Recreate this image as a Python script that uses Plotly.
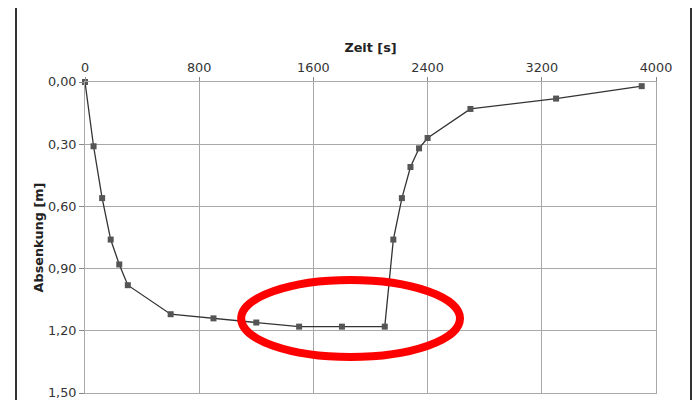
import plotly.graph_objects as go

# Data
zeit_s = [0, 60, 120, 180, 240, 300, 600, 900, 1200, 1500, 1800, 2100,
          2160, 2220, 2280, 2340, 2400, 2700, 3300, 3900]
absenkung_m = [0.00, 0.31, 0.56, 0.76, 0.88, 0.98, 1.12, 1.14, 1.16, 1.18, 1.18, 1.18,
               0.76, 0.56, 0.41, 0.32, 0.27, 0.13, 0.08, 0.02]
x_ticks = [0, 800, 1600, 2400, 3200, 4000]
y_ticks = [0.0, 0.3, 0.6, 0.9, 1.2, 1.5]
y_tick_labels = ["0,00", "0,30", "0,60", "0,90", "1,20", "1,50"]

# Red highlight ellipse (data coordinates)
ellipse_x = [1094, 2627]
ellipse_y = [0.955, 1.326]

FONT = "DejaVu Sans, Verdana, sans-serif"

OFF = 8  # page body margin offset
W, H = 700, 400
L, T = 85 - OFF, 82 - OFF
R = W - (656 - OFF)
B = H - (393 - OFF)
PW = W - L - R

fig = go.Figure()
fig.add_trace(go.Scatter(
    x=zeit_s, y=absenkung_m, mode="lines+markers",
    line=dict(color="#333333", width=1.3),
    marker=dict(symbol="square", size=6, color="#555555"),
    showlegend=False, cliponaxis=False,
))

fig.update_layout(
    width=W, height=H,
    margin=dict(l=L, r=R, t=T, b=B, autoexpand=False),
    paper_bgcolor="white", plot_bgcolor="white",
    font=dict(family=FONT, size=12.8, color="#333333"),
    xaxis=dict(
        side="top", range=[0, 4000], tickvals=x_ticks,
        ticktext=[str(v) for v in x_ticks],
        showgrid=True, gridcolor="#a8a8a8", gridwidth=1,
        ticks="outside", ticklen=4, tickcolor="#888888",
        showline=True, linecolor="#a8a8a8", mirror=True,
        zeroline=False, automargin=False,
        title=dict(text="<b>Zeit [s]</b>", font=dict(size=12.8, color="#222222"), standoff=4),
    ),
    yaxis=dict(
        range=[1.5, 0], tickvals=y_ticks, ticktext=y_tick_labels,
        showgrid=True, gridcolor="#a8a8a8", gridwidth=1,
        ticks="outside", ticklen=5, tickcolor="#888888",
        showline=True, linecolor="#a8a8a8", mirror=True,
        zeroline=False, automargin=False,
        title=dict(text="<b>Absenkung [m]</b>", font=dict(size=12.8, color="#222222"), standoff=1),
    ),
    shapes=[
        dict(type="circle", xref="x", yref="y",
             x0=ellipse_x[0], x1=ellipse_x[1], y0=ellipse_y[0], y1=ellipse_y[1],
             line=dict(color="#ff0000", width=8), layer="above"),
        dict(type="line", xref="paper", yref="paper",
             x0=(16 - OFF - L) / PW, x1=(16 - OFF - L) / PW, y0=-0.1, y1=1.4,
             line=dict(color="#333333", width=2)),
        dict(type="line", xref="paper", yref="paper",
             x0=(691 - OFF - L) / PW, x1=(691 - OFF - L) / PW, y0=-0.1, y1=1.4,
             line=dict(color="#333333", width=2)),
    ],
)

fig.write_html("out.html")
